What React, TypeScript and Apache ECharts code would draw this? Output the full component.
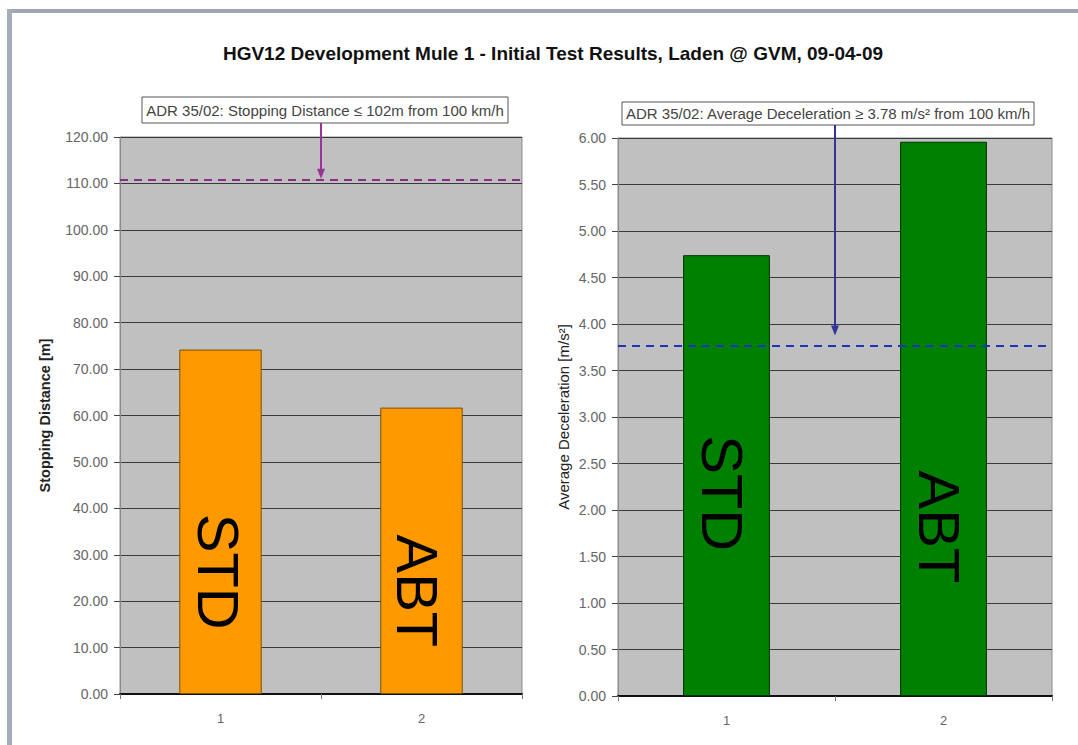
import React, { useEffect, useRef } from "react";
import * as echarts from "echarts";

const categories = ["1", "2"];
const barNames = ["STD", "ABT"];
const stoppingDistance = [74.2, 61.7];
const avgDeceleration = [4.74, 5.96];
const stoppingLimit = 110.8;
const decelLimit = 3.77;
const titleText = "HGV12 Development Mule 1 - Initial Test Results, Laden @ GVM, 09-04-09";
const noteLeft = "ADR 35/02: Stopping Distance \u2264 102m from 100 km/h";
const noteRight = "ADR 35/02: Average Deceleration \u2265 3.78 m/s\u00b2 from 100 km/h";
const leftAxisName = "Stopping Distance [m]";
const rightAxisName = "Average Deceleration [m/s\u00b2]";

const FONT = "'Liberation Sans', Arial, sans-serif";

const leftLabelPos = [["48%", "64.5%"], ["45%", "64%"]];
const rightLabelPos = [["45%", "54%"], ["45%", "69.5%"]];

export default function App() {
  const ref = useRef<HTMLDivElement>(null);

  useEffect(() => {
    if (!ref.current) return;
    const chart = echarts.init(ref.current, null, { renderer: "svg" });

    const bigLabel = (name: string, pos: string[]) => ({
      show: true,
      formatter: name,
      position: pos,
      rotate: -90,
      align: "center",
      verticalAlign: "middle",
      fontSize: 58,
      fontFamily: FONT,
      color: "#000",
    });

    const xAxisCommon = {
      type: "category",
      data: categories,
      axisLine: { show: true, lineStyle: { color: "#111", width: 2 } },
      axisTick: { show: true, length: 5, lineStyle: { color: "#777" } },
      axisLabel: { color: "#666", fontSize: 13, margin: 18, fontFamily: FONT },
      splitLine: { show: false },
    };

    const yAxisCommon = {
      type: "value",
      nameLocation: "middle",
      nameRotate: 90,
      axisLine: { show: true, lineStyle: { color: "#8a8a8a", width: 1 } },
      axisTick: { show: true, length: 6, lineStyle: { color: "#444" } },
      splitLine: { show: true, lineStyle: { color: "#3a3a3a", width: 1 } },
    };

    const option: any = {
      animation: false,
      backgroundColor: "#ffffff",
      title: {
        text: titleText,
        left: 548,
        top: 39,
        textAlign: "center",
        textStyle: { fontFamily: FONT, fontSize: 19, fontWeight: "bold", color: "#111" },
      },
      grid: [
        { left: 120, top: 137, width: 402, height: 557, show: true, backgroundColor: "#c0c0c0", borderColor: "#8c8c8c", borderWidth: 1 },
        { left: 618, top: 138, width: 434, height: 558, show: true, backgroundColor: "#c0c0c0", borderColor: "#8c8c8c", borderWidth: 1 },
      ],
      xAxis: [
        { ...xAxisCommon, gridIndex: 0 },
        { ...xAxisCommon, gridIndex: 1 },
      ],
      yAxis: [
        {
          ...yAxisCommon,
          gridIndex: 0,
          min: 0,
          max: 120,
          interval: 10,
          name: leftAxisName,
          nameGap: 68,
          nameTextStyle: { fontFamily: FONT, fontSize: 14.5, fontWeight: "bold", color: "#222" },
          axisLabel: { formatter: (v: number) => v.toFixed(2), color: "#666", fontSize: 14, margin: 12, fontFamily: FONT },
        },
        {
          ...yAxisCommon,
          gridIndex: 1,
          min: 0,
          max: 6,
          interval: 0.5,
          name: rightAxisName,
          nameGap: 47,
          nameTextStyle: { fontFamily: FONT, fontSize: 15, color: "#222" },
          axisLabel: { formatter: (v: number) => v.toFixed(2), color: "#666", fontSize: 14, margin: 12, fontFamily: FONT },
        },
      ],
      series: [
        {
          type: "bar",
          xAxisIndex: 0,
          yAxisIndex: 0,
          barWidth: "41%",
          itemStyle: { color: "#ff9900", borderColor: "#7a5200", borderWidth: 1 },
          data: stoppingDistance.map((v, i) => ({ value: v, label: bigLabel(barNames[i], leftLabelPos[i]) })),
          markLine: {
            silent: true,
            symbol: "none",
            label: { show: false },
            lineStyle: { type: [8, 6], color: "#8b2c8b", width: 2 },
            data: [{ yAxis: stoppingLimit }],
          },
        },
        {
          type: "bar",
          xAxisIndex: 1,
          yAxisIndex: 1,
          barWidth: "40%",
          itemStyle: { color: "#008000", borderColor: "#003000", borderWidth: 1 },
          data: avgDeceleration.map((v, i) => ({ value: v, label: bigLabel(barNames[i], rightLabelPos[i]) })),
          markLine: {
            silent: true,
            symbol: "none",
            label: { show: false },
            lineStyle: { type: [8, 6], color: "#2233bb", width: 2 },
            data: [{ yAxis: decelLimit }],
          },
        },
      ],
    };

    chart.setOption(option);

    const l0 = chart.convertToPixel({ xAxisIndex: 0, yAxisIndex: 0 }, [0, stoppingLimit]) as number[];
    const l1 = chart.convertToPixel({ xAxisIndex: 0, yAxisIndex: 0 }, [1, stoppingLimit]) as number[];
    const r0 = chart.convertToPixel({ xAxisIndex: 1, yAxisIndex: 1 }, [0, decelLimit]) as number[];
    const r1 = chart.convertToPixel({ xAxisIndex: 1, yAxisIndex: 1 }, [1, decelLimit]) as number[];
    const lx = Math.round((l0[0] + l1[0]) / 2);
    const rx = Math.round((r0[0] + r1[0]) / 2);
    const lTip = l0[1] - 1;
    const rTip = r0[1] - 10;

    const arrow = (x: number, y1: number, tip: number, color: string) => [
      { type: "line", shape: { x1: x, y1, x2: x, y2: tip - 8 }, style: { stroke: color, lineWidth: 2 } },
      { type: "polygon", shape: { points: [[x - 4, tip - 10], [x + 4, tip - 10], [x, tip]] }, style: { fill: color } },
    ];

    chart.setOption({
      graphic: [
        { type: "rect", shape: { x: 8, y: 9, width: 1070, height: 4 }, style: { fill: "#9ea7b3" } },
        { type: "rect", shape: { x: 7, y: 9, width: 5, height: 736 }, style: { fill: "#a4adba" } },
        { type: "rect", shape: { x: 142, y: 97, width: 366, height: 26 }, style: { fill: "#fff", stroke: "#555", lineWidth: 1 } },
        { type: "text", x: 325, y: 110, style: { text: noteLeft, fontFamily: FONT, fontSize: 15, fill: "#444", textAlign: "center", textVerticalAlign: "middle" } },
        ...arrow(lx, 123, lTip, "#993399"),
        { type: "rect", shape: { x: 622, y: 102, width: 412, height: 23 }, style: { fill: "#fff", stroke: "#555", lineWidth: 1 } },
        { type: "text", x: 828, y: 113.5, style: { text: noteRight, fontFamily: FONT, fontSize: 15, fill: "#444", textAlign: "center", textVerticalAlign: "middle" } },
        ...arrow(rx, 125, rTip, "#333399"),
      ],
    });

    return () => chart.dispose();
  }, []);

  return <div ref={ref} style={{ position: "absolute", left: 0, top: 0, width: 1078, height: 745 }} />;
}
